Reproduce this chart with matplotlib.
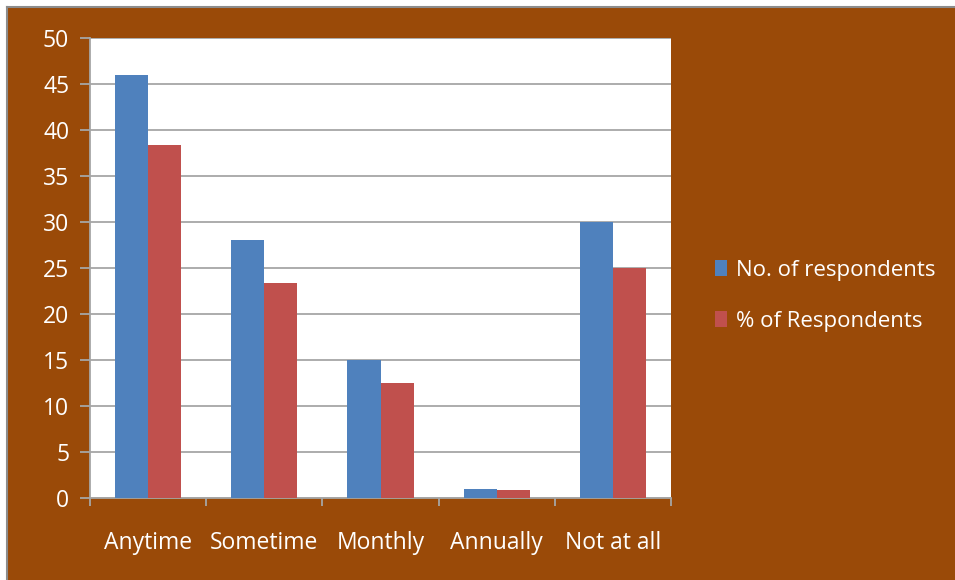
import matplotlib.pyplot as plt
import numpy as np
from matplotlib.patches import Rectangle
from matplotlib.lines import Line2D

# data
categories = ["Anytime", "Sometime", "Monthly", "Annually", "Not at all"]
no_respondents = [46, 28, 15, 1, 30]
pct_respondents = [38.33, 23.33, 12.5, 0.83, 25.0]
series_names = ["No. of respondents", "% of Respondents"]

BROWN = "#9A4A08"
BLUE = "#4F81BD"
RED = "#C0504D"
GRID = "#A6A6A6"
FS = 16.5

plt.rcParams['font.family'] = ['Open Sans', 'DejaVu Sans']

fig = plt.figure(figsize=(9.55, 5.8), dpi=100)
fig.patch.set_facecolor("white")

# brown chart background with thin gray border top/left
fig.patches.append(Rectangle((7 / 955, 0), 1, 1 - 7 / 580, transform=fig.transFigure,
                             facecolor=BROWN, edgecolor="none", zorder=-10))
fig.lines.append(Line2D([7 / 955, 7 / 955], [0, 1 - 7 / 580], transform=fig.transFigure,
                        color="#8C8C8C", lw=1.5, zorder=-5))
fig.lines.append(Line2D([7 / 955, 1], [1 - 7 / 580, 1 - 7 / 580], transform=fig.transFigure,
                        color="#8C8C8C", lw=1.5, zorder=-5))

ax = fig.add_axes([90 / 955, 82 / 580, 581 / 955, 460 / 580])
ax.set_facecolor("white")

x = np.arange(len(categories))
w = 0.285
ax.bar(x - w / 2, no_respondents, w, color=BLUE, zorder=3, label=series_names[0])
ax.bar(x + w / 2, pct_respondents, w, color=RED, zorder=3, label=series_names[1])

ax.set_xlim(-0.5, len(categories) - 0.5)
ax.set_ylim(0, 50)
ax.set_yticks(range(0, 51, 5))
ax.yaxis.grid(True, color=GRID, lw=1.3, zorder=0)
ax.set_axisbelow(True)

# category boundaries as major ticks, labels at centers
ax.set_xticks(np.arange(-0.5, len(categories), 1))
ax.set_xticklabels([])
ax.set_xticks(x, minor=True)
ax.set_xticklabels(categories, minor=True)
ax.tick_params(axis="x", which="major", direction="out", length=6, color=GRID, width=1.3)
ax.tick_params(axis="x", which="minor", length=0, pad=24, labelsize=FS, labelcolor="white")
ax.tick_params(axis="y", direction="out", length=7, color=GRID, width=1.3,
               pad=8, labelsize=FS, labelcolor="white")

for side in ["top", "right"]:
    ax.spines[side].set_visible(False)
for side in ["left", "bottom"]:
    ax.spines[side].set_color(GRID)
    ax.spines[side].set_linewidth(1.3)

leg = ax.legend(loc="center left", bbox_to_anchor=(695 / 955, 1 - 296 / 580),
                bbox_transform=fig.transFigure, frameon=False, fontsize=16,
                handlelength=0.55, handleheight=0.7, handletextpad=0.4,
                labelspacing=1.35)
for t in leg.get_texts():
    t.set_color("white")

fig.savefig("out.png", dpi=100, facecolor=fig.get_facecolor())
